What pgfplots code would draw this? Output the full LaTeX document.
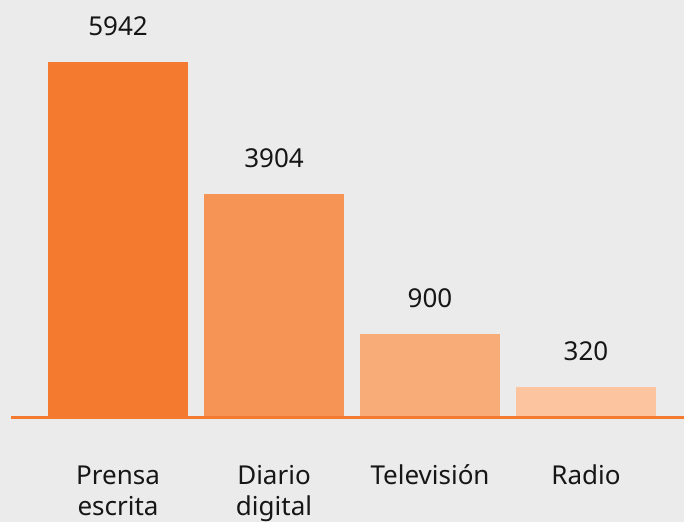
\documentclass[border=0pt]{standalone}
\usepackage{pgfplots}
\pgfplotsset{compat=1.18}
\usepackage{fontspec}
\setmainfont{Noto Sans}
\definecolor{bgc}{RGB}{235,235,235}
\definecolor{c1}{RGB}{244,122,48}
\definecolor{c2}{RGB}{246,148,85}
\definecolor{c3}{RGB}{248,172,120}
\definecolor{c4}{RGB}{252,196,159}
\definecolor{txt}{RGB}{22,22,22}
\begin{document}
\begin{tikzpicture}
\fill[bgc] (0,0) rectangle (684pt,522pt);
\begin{axis}[
  at={(11pt,104.65pt)}, anchor=south west,
  scale only axis, width=673pt, height=417.35pt,
  xmin=-0.686, xmax=3.628, ymin=0, ymax=417.35,
  ybar, bar width=140pt,
  axis on top,
  axis x line*=bottom, hide y axis,
  x axis line style={-, color=c1, line width=2.7pt},
  xtick={0,1,2,3}, major tick length=0pt,
  xticklabels={{\begin{tabular}[t]{@{}c@{}}Prensa\\escrita\end{tabular}},{\begin{tabular}[t]{@{}c@{}}Diario\\digital\end{tabular}},Televisión,Radio},
  xticklabel style={font=\fontsize{26pt}{31pt}\selectfont, text=txt, anchor=base, yshift=-66.65pt},
  nodes near coords, point meta=explicit symbolic,
  every node near coord/.append style={font=\fontsize{26pt}{31pt}\selectfont, text=txt, anchor=base, yshift=26.5pt},
]
\addplot[fill=c1, draw=none, bar shift=0pt] coordinates {(0,355) [5942]};
\addplot[fill=c2, draw=none, bar shift=0pt] coordinates {(1,223) [3904]};
\addplot[fill=c3, draw=none, bar shift=0pt] coordinates {(2,83) [900]};
\addplot[fill=c4, draw=none, bar shift=0pt] coordinates {(3,30) [320]};
\end{axis}
\pgfresetboundingbox
\useasboundingbox (0,0) rectangle (684pt,522pt);
\end{tikzpicture}
\end{document}
